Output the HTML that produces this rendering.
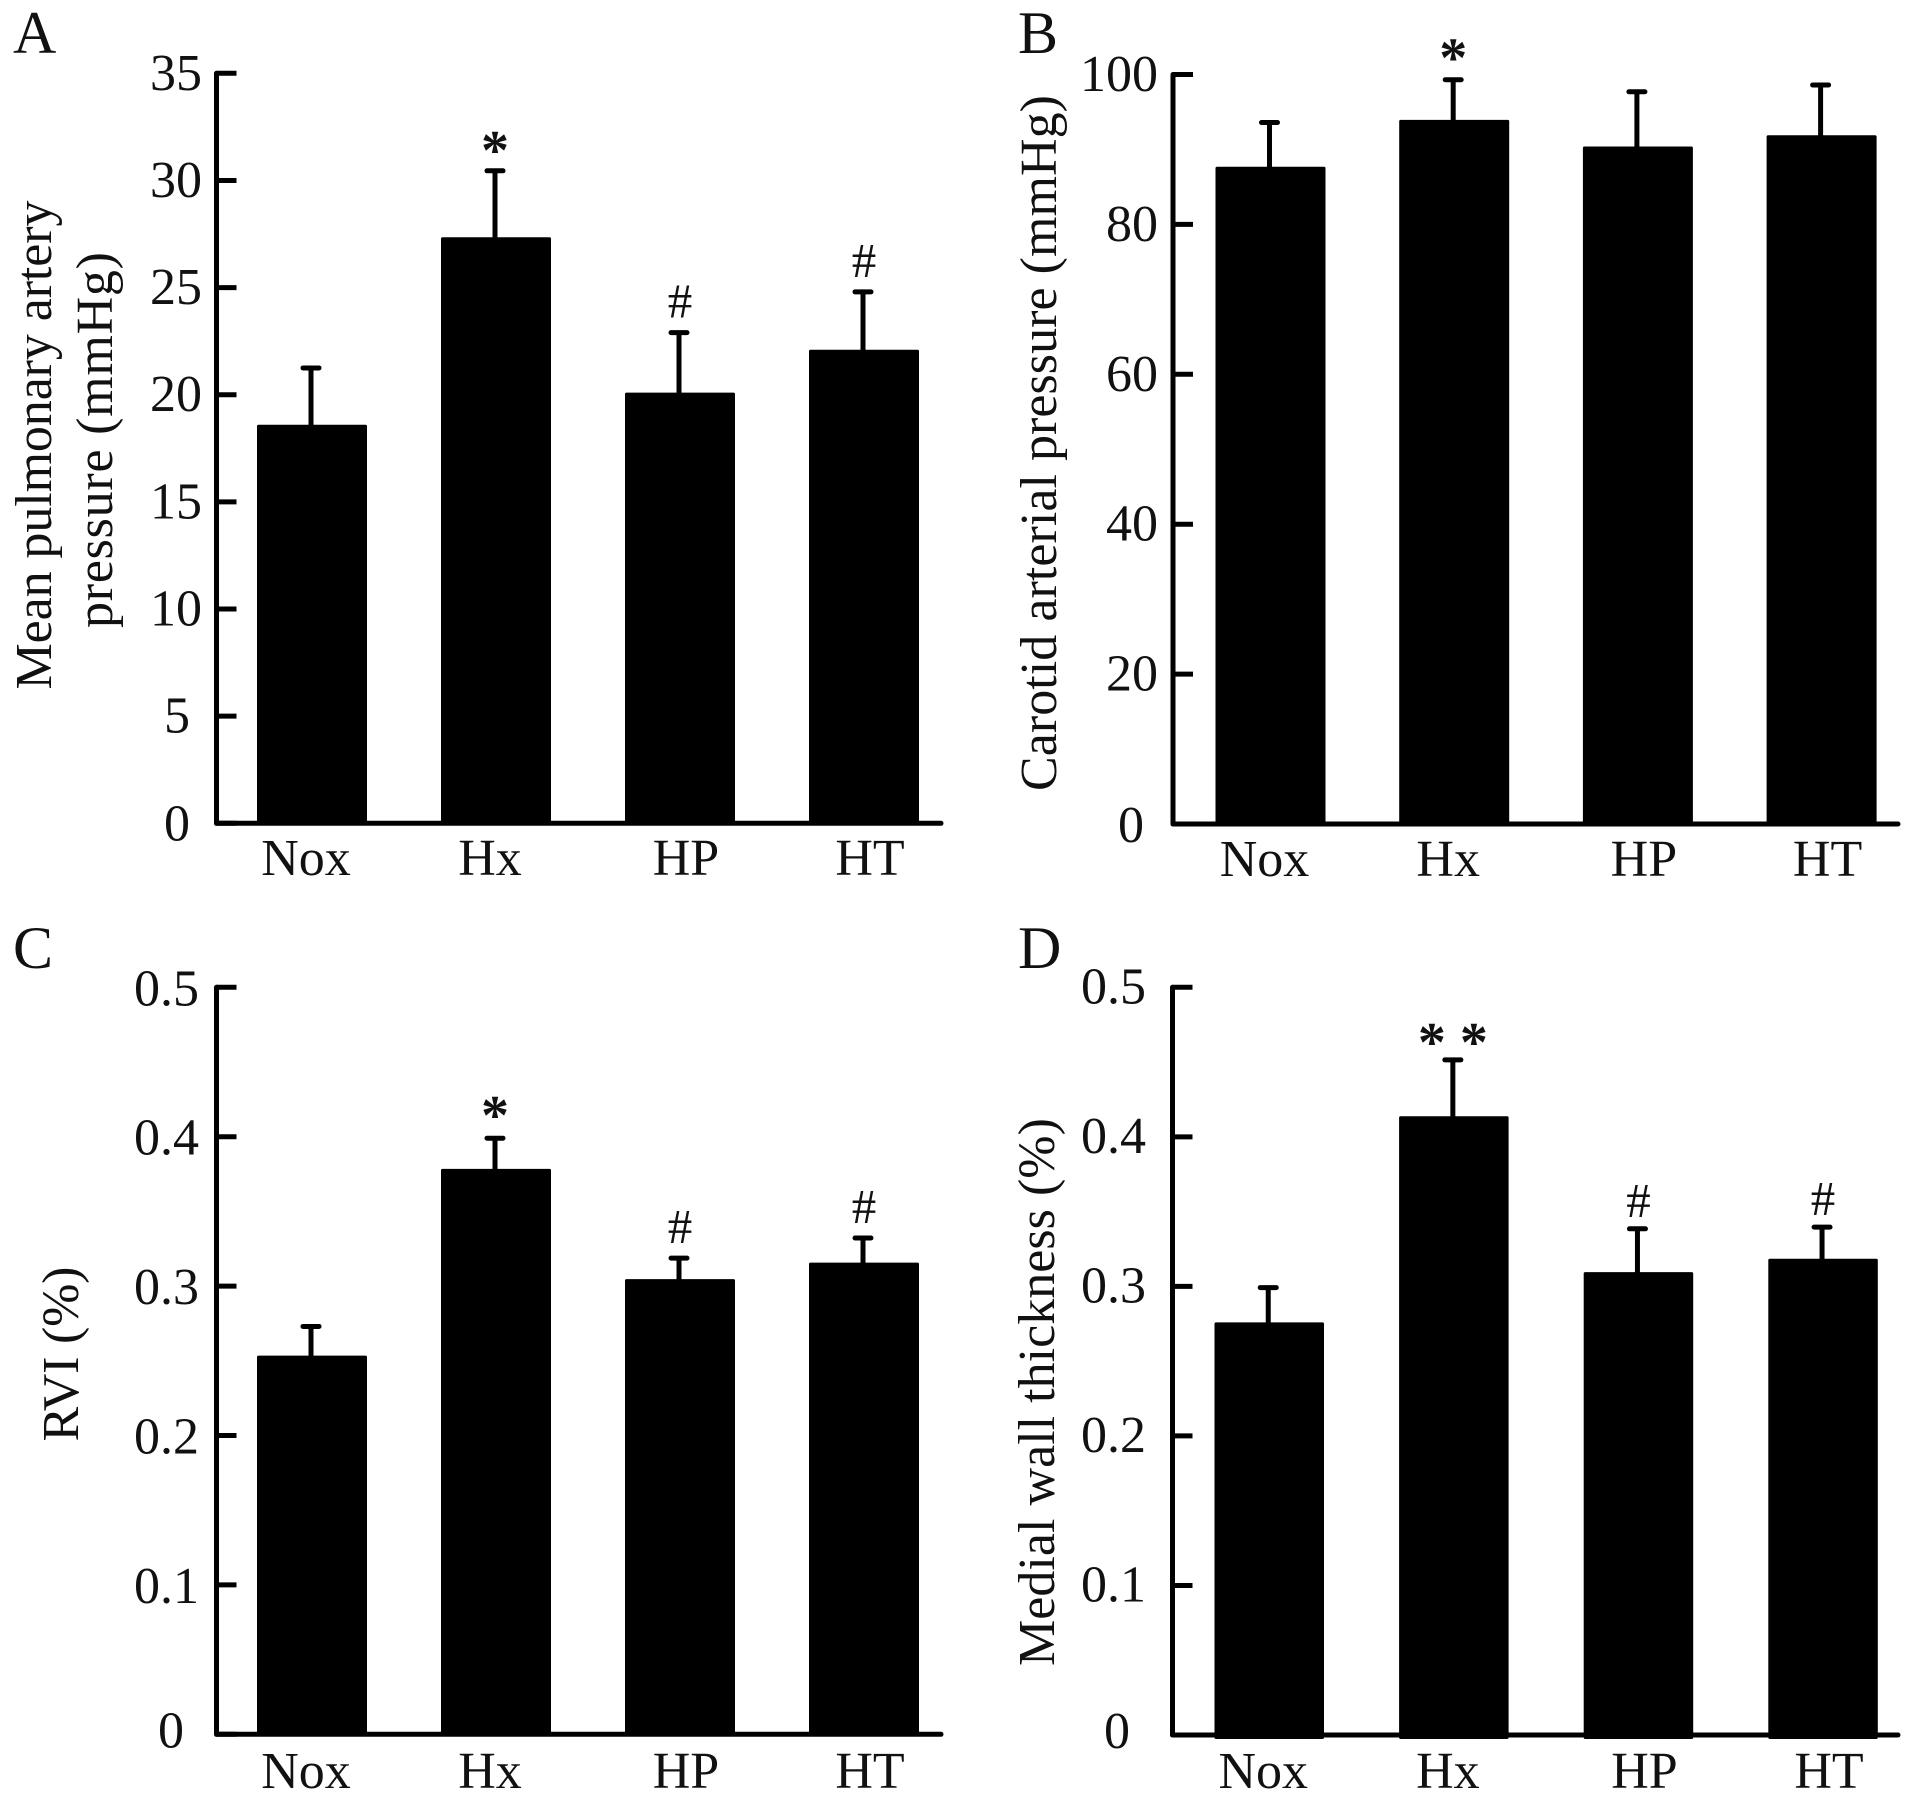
<!DOCTYPE html>
<html lang="en">
<head>
<meta charset="utf-8">
<title>Pressure and remodeling bar charts</title>
<style>
html,body{margin:0;padding:0;background:#fff;}
svg{display:block;}
text{font-family:"Liberation Serif","DejaVu Serif",serif;fill:#111;}
.letter{font-size:60px;}
.title{font-size:52px;text-anchor:middle;}
.tick{font-size:52px;text-anchor:end;}
.cat{font-size:52px;text-anchor:middle;}
.star{font-size:56px;font-weight:bold;text-anchor:middle;}
.hash{font-size:49px;text-anchor:middle;}
</style>
</head>
<body>
<svg id="fig" width="1913" height="1802" viewBox="0 0 1913 1802" xmlns="http://www.w3.org/2000/svg">
  <rect x="0" y="0" width="1913" height="1802" fill="#fff"/>

  <text class="letter" x="13" y="53">A</text>
  <text class="letter" x="1018" y="53">B</text>
  <text class="letter" x="13" y="968">C</text>
  <text class="letter" x="1018" y="968">D</text>

  <text class="title" transform="translate(51 445) rotate(-90)" textLength="489">Mean pulmonary artery</text>
  <text class="title" transform="translate(112 440) rotate(-90)" textLength="376">pressure (mmHg)</text>
  <text class="title" transform="translate(1056 443) rotate(-90)" textLength="696">Carotid arterial pressure (mmHg)</text>
  <text class="title" transform="translate(78 1354) rotate(-90)" textLength="175">RVI (%)</text>
  <text class="title" transform="translate(1054 1392) rotate(-90)" textLength="548">Medial wall thickness (%)</text>
</svg>

<script>
// Shared categories
const categories = ['Nox', 'Hx', 'HP', 'HT'];

// Panel A: mean pulmonary artery pressure (mmHg)
const aTicks = ['0', '5', '10', '15', '20', '25', '30', '35'];
const aValues = [18.6, 27.35, 20.1, 22.1];
const aErrors = [2.65, 3.1, 2.8, 2.7];
const aMarks = ['', '*', '#', '#'];

// Panel B: carotid arterial pressure (mmHg)
const bTicks = ['0', '20', '40', '60', '80', '100'];
const bValues = [87.7, 93.95, 90.4, 91.9];
const bErrors = [5.9, 5.35, 7.3, 6.7];
const bMarks = ['', '*', '', ''];

// Panel C: RVI (%)
const cTicks = ['0', '0.1', '0.2', '0.3', '0.4', '0.5'];
const cValues = [0.2535, 0.3785, 0.3047, 0.3157];
const cErrors = [0.0195, 0.0205, 0.014, 0.0165];
const cMarks = ['', '*', '#', '#'];

// Panel D: medial wall thickness (%)
const dTicks = ['0', '0.1', '0.2', '0.3', '0.4', '0.5'];
const dValues = [0.2759, 0.4138, 0.3095, 0.3185];
const dErrors = [0.0233, 0.0377, 0.029, 0.0211];
const dMarks = ['', '* *', '#', '#'];

const NS = 'http://www.w3.org/2000/svg';
const fig = document.getElementById('fig');

function make(parent, tag, attrs, text) {
  const el = document.createElementNS(NS, tag);
  for (const k in attrs) el.setAttribute(k, attrs[k]);
  if (text !== undefined) el.textContent = text;
  parent.appendChild(el);
  return el;
}

function drawPanel(id, cfg, ticks, values, errors, marks) {
  const maxV = Number(ticks[ticks.length - 1]);
  const yScale = v => cfg.y0 - (v / maxV) * (cfg.y0 - cfg.yTop);
  const xBand = i => cfg.firstBar + i * cfg.step;

  const g = make(fig, 'g', {});
  
  

  categories.forEach((cat, i) => {
    const left = xBand(i);
    const cx = left + cfg.barW / 2;
    const sx = cx - 1;
    const top = yScale(values[i]);
    const errTop = yScale(values[i] + errors[i]);

    const bar = make(g, 'rect', {x: left, y: top, width: cfg.barW, height: cfg.y0 + cfg.overshoot - top, rx: 1.5, fill: '#000'});
    
    

    const stem = make(g, 'line', {x1: sx, x2: sx, y1: top + 2, y2: errTop, stroke: '#000', 'stroke-width': 5});
    
    

    const cap = make(g, 'line', {x1: sx - 8, x2: sx + 8, y1: errTop, y2: errTop, stroke: '#000', 'stroke-width': 5, 'stroke-linecap': 'round'});
    
    

    if (marks[i]) {
      const isHash = marks[i] === '#';
      const mark = make(g, 'text', {
        class: isHash ? 'hash' : 'star',
        x: isHash ? cx : sx,
        y: isHash ? errTop - cfg.hashGap : errTop + 2 - cfg.starLift
      }, marks[i]);
      
      
    }

    const lab = make(g, 'text', {class: 'cat', x: cx + (i < 2 ? -6 : 6), y: cfg.catY}, cat);
    
    
  });

  const yAxis = make(g, 'line', {x1: cfg.axisX, x2: cfg.axisX, y1: cfg.yTop, y2: cfg.y0, stroke: '#000', 'stroke-width': 5, 'stroke-linecap': 'round'});
  
  

  const xAxis = make(g, 'line', {x1: cfg.axisX, x2: cfg.axisRight, y1: cfg.y0, y2: cfg.y0, stroke: '#000', 'stroke-width': 5, 'stroke-linecap': 'round'});
  
  

  ticks.forEach(t => {
    const y = yScale(Number(t));
    const tick = make(g, 'line', {x1: cfg.axisX, x2: cfg.axisX + 20, y1: y, y2: y, stroke: '#000', 'stroke-width': 5});
    
    

    const right = cfg.tickRight - (t.length === 1 ? cfg.singleNudge : 0);
    const dy = t === '0' ? cfg.zeroDy : cfg.tickDy;
    const lab = make(g, 'text', {class: 'tick', x: right, y: y + dy}, t);
    
    
  });
}

drawPanel('a', {axisX: 216.5, axisRight: 941, y0: 823.3, yTop: 73.3, firstBar: 257, step: 184, barW: 110, overshoot: 0, catY: 875, tickRight: 202, singleNudge: 12, tickDy: 16.5, zeroDy: 17, starLift: 4, hashGap: 15}, aTicks, aValues, aErrors, aMarks);
drawPanel('b', {axisX: 1173, axisRight: 1898, y0: 824, yTop: 74.5, firstBar: 1215.5, step: 183.7, barW: 110, overshoot: 0, catY: 876, tickRight: 1158, singleNudge: 14, tickDy: 16.5, zeroDy: 18, starLift: 5, hashGap: 15}, bTicks, bValues, bErrors, bMarks);
drawPanel('c', {axisX: 216.5, axisRight: 941, y0: 1734.3, yTop: 987.3, firstBar: 257, step: 184, barW: 110, overshoot: 0, catY: 1788, tickRight: 199, singleNudge: 15, tickDy: 18, zeroDy: 13, starLift: 6, hashGap: 15}, cTicks, cValues, cErrors, cMarks);
drawPanel('d', {axisX: 1172.5, axisRight: 1898, y0: 1735, yTop: 987.3, firstBar: 1214.5, step: 184.6, barW: 109.5, overshoot: 4, catY: 1788, tickRight: 1146, singleNudge: 16, tickDy: 16, zeroDy: 13, starLift: 1, hashGap: 12}, dTicks, dValues, dErrors, dMarks);
</script>
</body>
</html>
